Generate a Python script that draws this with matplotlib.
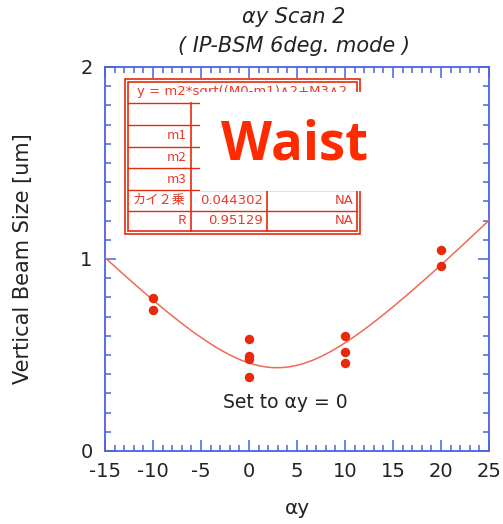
import matplotlib
matplotlib.use("Agg")
import matplotlib.pyplot as plt
import numpy as np
from matplotlib.patches import Rectangle
from matplotlib.ticker import MultipleLocator

plt.rcParams["axes.unicode_minus"] = False

# ---- data ----
alpha_y = [-10, -10, 0, 0, 0, 0, 10, 10, 10, 20, 20]
beam_size = [0.795, 0.734, 0.583, 0.495, 0.480, 0.384, 0.599, 0.517, 0.460, 1.045, 0.964]

# fit parameters: y = m2*sqrt((x-m1)^2 + m3^2)
m1 = 2.92
m2 = 0.05074
m3 = 8.55

xticks = [-15, -10, -5, 0, 5, 10, 15, 20, 25]
yticks = [0, 1, 2]

row_labels = ["", "m1", "m2", "m3", "カイ２乗", "R"]
col_values = ["", "", "", "", "0.044302", "0.95129"]
col_errors = ["", "", "", "", "NA", "NA"]
fit_formula = "y = m2*sqrt((M0-m1)∧2+M3∧2"

W, H = 503, 524
fig = plt.figure(figsize=(W / 100, H / 100), dpi=100)
ax = fig.add_axes([105 / W, 1 - 451 / H, 384 / W, 384 / H])

blue = "#4a62e6"
red = "#e82a0c"
dark = "#222222"

xs = np.linspace(-15, 25, 400)
ax.plot(xs, m2 * np.sqrt((xs - m1) ** 2 + m3 ** 2), color="#ee6a55", lw=1.1, zorder=3)
ax.plot(alpha_y, beam_size, "o", color=red, ms=6.8, mec="none", zorder=4)

ax.set_xlim(-15, 25)
ax.set_ylim(0, 2)
ax.set_xticks(xticks)
ax.set_yticks(yticks)
ax.xaxis.set_minor_locator(MultipleLocator(1))
ax.yaxis.set_minor_locator(MultipleLocator(0.1))
for s in ax.spines.values():
    s.set_color(blue)
    s.set_linewidth(1.3)
ax.tick_params(which="both", direction="in", top=True, right=True, color=blue, width=1.1,
               labelsize=14, labelcolor=dark)
ax.tick_params(which="major", length=8)
ax.tick_params(which="minor", length=4)
ax.tick_params(axis="x", which="major", pad=8)
ax.tick_params(axis="y", which="major", pad=9)

ax.set_xlabel("αy", fontsize=14.5, color=dark)
ax.xaxis.set_label_coords(0.5, -(508 - 451) / 384)
ax.xaxis.label.set_va("center")
ax.set_ylabel("Vertical Beam Size [um]", fontsize=15, color=dark)
ax.yaxis.set_label_coords(-(105 - 23) / 384, 0.5)
ax.yaxis.label.set_va("center")

fig.text(294 / W, 1 - 17 / H, "αy Scan 2", ha="center", va="center", fontsize=15,
         style="italic", color=dark)
fig.text(294 / W, 1 - 46 / H, "( IP-BSM 6deg. mode )", ha="center", va="center",
         fontsize=15, style="italic", color=dark)

ax.text(3.75, 0.252, "Set to αy = 0", ha="center", va="center",
        fontsize=13.5, color=dark, zorder=5)


def fx(px):
    return px / W


def fy(py):
    return 1 - py / H


tf = fig.transFigure
tcol = "#e83a2a"
# table double border
fig.patches.append(Rectangle((fx(125), fy(234)), fx(360) - fx(125), fy(79) - fy(234),
                             transform=tf, facecolor="white", edgecolor=red, lw=1.2, zorder=5))
fig.patches.append(Rectangle((fx(128), fy(231)), fx(357) - fx(128), fy(82) - fy(231),
                             transform=tf, fill=False, edgecolor=red, lw=1.2, zorder=5))
row_edges = [103, 125, 146.7, 168.3, 190, 211]
for ry in row_edges:
    fig.lines.append(plt.Line2D([fx(128), fx(357)], [fy(ry), fy(ry)], transform=tf,
                                color=red, lw=1.0, zorder=6))
for cx in [190.7, 267.3]:
    fig.lines.append(plt.Line2D([fx(cx), fx(cx)], [fy(103), fy(231)], transform=tf,
                                color=red, lw=1.2, zorder=6))
fig.text(fx(137), fy(91), fit_formula, ha="left", va="center", fontsize=9.5,
         color=tcol, zorder=7)
row_tops = [103, 125, 146.7, 168.3, 190, 211, 231]
for i in range(len(row_labels)):
    cy = (row_tops[i] + row_tops[i + 1]) / 2
    fig.text(fx(186), fy(cy), row_labels[i], ha="right", va="center", fontsize=9.5,
             color=tcol, family=["Noto Sans CJK JP", "DejaVu Sans"], zorder=7)
    fig.text(fx(263), fy(cy), col_values[i], ha="right", va="center", fontsize=9.5,
             color=tcol, zorder=7)
    fig.text(fx(354), fy(cy), col_errors[i], ha="right", va="center", fontsize=9.5,
             color=tcol, zorder=7)

# white box with "Waist"
fig.patches.append(Rectangle((fx(200), fy(191)), fx(380) - fx(200), fy(92) - fy(191),
                             transform=tf, facecolor="white", edgecolor="none", zorder=8))
fig.text(fx(295), fy(146), "Waist", ha="center", va="center", fontsize=38,
         fontweight="bold", family="Open Sans", color="#ff2a00", zorder=9)

fig.savefig("out.png", dpi=100)
